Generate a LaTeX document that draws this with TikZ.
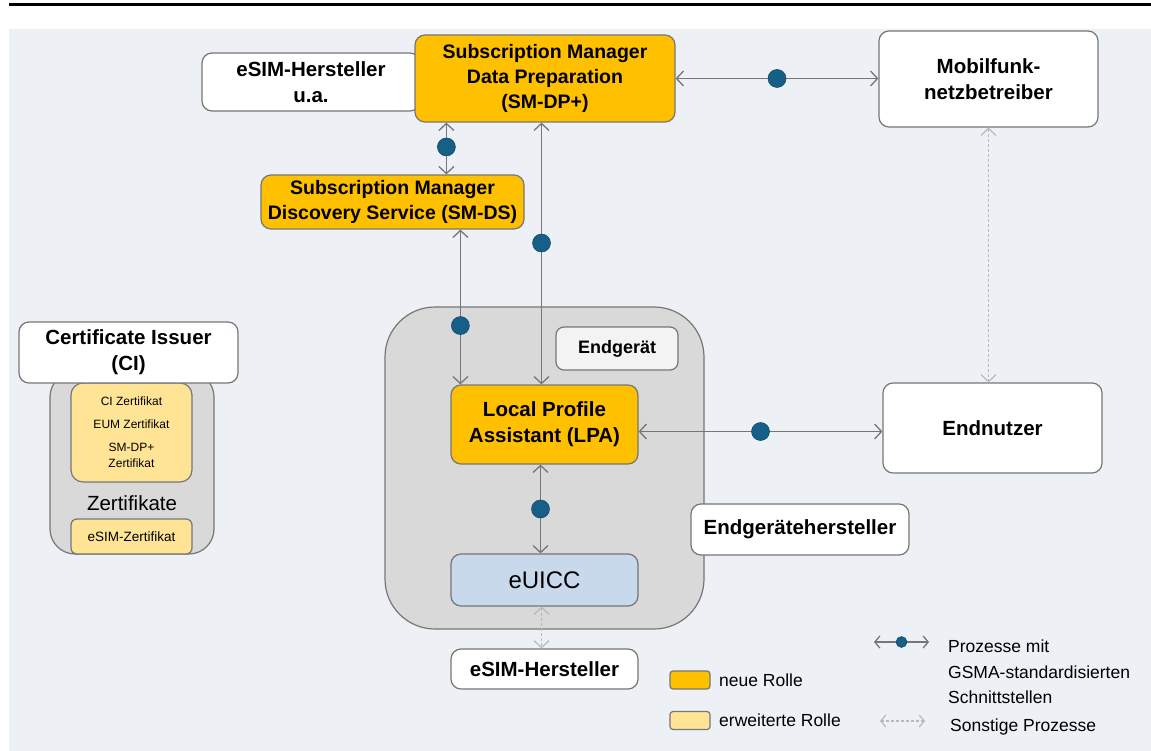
\documentclass[tikz,border=0pt]{standalone}
\usepackage{fontspec}
\setmainfont{Liberation Sans}
\usetikzlibrary{arrows.meta}

\definecolor{bgblue}{RGB}{237,241,245}
\definecolor{newrole}{RGB}{255,192,0}
\definecolor{extrole}{RGB}{255,228,150}
\definecolor{devgray}{RGB}{217,217,217}
\definecolor{labelgray}{RGB}{243,243,243}
\definecolor{euiccblue}{RGB}{201,217,236}
\definecolor{dotblue}{RGB}{22,96,136}
\definecolor{linegray}{RGB}{118,118,118}
\definecolor{dashgray}{RGB}{185,185,185}

\begin{document}
\begin{tikzpicture}
    [x=1pt, y=-1pt,
    every node/.style={inner sep=2pt, align=center},
    role/.style={draw=linegray, line width=1.2pt, rounded corners=10pt, fill=white,
        font=\fontsize{20.5}{26}\selectfont\bfseries},
    new role/.style={role, fill=newrole},
    sm role/.style={new role, font=\fontsize{19.5}{25}\selectfont\bfseries},
    link/.style={draw=linegray, line width=1.3pt, <->, >={Straight Barb[length=7pt,width=15pt]}},
    other link/.style={draw=dashgray, line width=1.2pt, dash pattern=on 3pt off 2pt, <->,
        >={Straight Barb[length=7pt,width=15pt]}},
    dot/.style={circle, fill=dotblue, draw=dotblue!70!black, line width=0.5pt, minimum size=18pt, inner sep=0pt},
    legend text/.style={anchor=west, font=\fontsize{17.5}{25.5}\selectfont, align=left}
    ]
    \useasboundingbox (0,0) rectangle (1151,751);
    \draw[line width=3pt] (9,5) -- (1151,5);
    \fill[bgblue] (9,29) rectangle (1151,751);

    \node (esimua) [role, minimum width=218pt, minimum height=58pt] at (311,82) {eSIM-Hersteller\\u.a.};
    \node (smdp) [sm role, minimum width=260pt, minimum height=87pt] at (545,78.5)
        {Subscription Manager\\Data Preparation\\(SM-DP+)};
    \node (mno) [role, minimum width=219pt, minimum height=96pt] at (988.5,79) {Mobilfunk-\\netzbetreiber};
    \node (smds) [sm role, minimum width=263pt, minimum height=54pt] at (392.5,202)
        {Subscription Manager\\Discovery Service (SM-DS)};

    \node (device) [draw=linegray, line width=1.2pt, fill=devgray, rounded corners=50pt,
        minimum width=319pt, minimum height=322pt] at (544.5,468) {};
    \node (devlabel) [role, fill=labelgray, rounded corners=8pt, minimum width=122pt, minimum height=43pt,
        font=\fontsize{18}{22}\selectfont\bfseries] at (617,348.5) {Endgerät};
    \node (lpa) [new role, minimum width=187pt, minimum height=79pt] at (544.5,424.5) {Local Profile\\Assistant (LPA)};
    \node (euicc) [role, fill=euiccblue, minimum width=187pt, minimum height=52pt,
        font=\fontsize{24}{28}\selectfont] at (544.5,580) {eUICC};
    \node (user) [role, minimum width=219pt, minimum height=90pt] at (992.5,428) {Endnutzer};
    \node (oem) [role, minimum width=218pt, minimum height=51pt] at (800,529.5) {Endgerätehersteller};
    \node (esim) [role, minimum width=187pt, minimum height=40pt] at (544.5,669) {eSIM-Hersteller};

    \node (certbox) [draw=linegray, line width=1.2pt, fill=devgray, rounded corners=25pt,
        minimum width=164pt, minimum height=182pt] at (132,463) {};
    \node (certs) [role, fill=extrole, rounded corners=12pt, minimum width=121pt, minimum height=99pt,
        font=\fontsize{12}{16}\selectfont] at (131.5,432.5)
        {CI Zertifikat\\[7pt]EUM Zertifikat\\[7pt]SM-DP+\\Zertifikat};
    \node (zert) [font=\fontsize{20.5}{24}\selectfont] at (132,503) {Zertifikate};
    \node (esimcert) [role, fill=extrole, rounded corners=6pt, minimum width=121pt, minimum height=35pt,
        font=\fontsize{13.5}{16}\selectfont] at (131.5,536.5) {eSIM-Zertifikat};
    \node (ci) [role, minimum width=219pt, minimum height=61pt] at (128.5,352.5) {Certificate Issuer\\(CI)};

    \draw[link] (smdp.east) -- node[dot] {} (smdp.east -| mno.west);
    \draw[link] ([xshift=32pt]smdp.south west) -- node[dot, pos=0.47] {} ([xshift=32pt]smdp.south west |- smds.north);
    \draw[link] ([xshift=10pt]lpa.north west) -- node[dot, pos=0.38] {} ([xshift=10pt]lpa.north west |- smds.south);
    \draw[link] ([xshift=-3pt]lpa.north) -- node[dot, pos=0.54] {} ([xshift=-3pt]lpa.north |- smdp.south);
    \draw[link] ([yshift=-7pt]lpa.east) -- node[dot] {} ([yshift=-7pt]lpa.east -| user.west);
    \draw[link] ([xshift=-4pt]lpa.south) -- node[dot] {} ([xshift=-4pt]euicc.north);
    \draw[other link] ([xshift=-3pt]euicc.south) -- ([xshift=-3pt]esim.north);
    \draw[other link] (mno.south) -- (mno.south |- user.north);

    \node (lnew) [draw=linegray, line width=1.2pt, fill=newrole, rounded corners=3pt,
        minimum width=40pt, minimum height=18pt] at (690,680) {};
    \node [legend text] at (717,680) {neue Rolle};
    \node (lext) [draw=linegray, line width=1.2pt, fill=extrole, rounded corners=3pt,
        minimum width=40pt, minimum height=18pt] at (690,720.5) {};
    \node [legend text] at (717,720.5) {erweiterte Rolle};

    \coordinate (lka) at (874,642);
    \coordinate (lkb) at (929,642);
    \draw[link, >={Straight Barb[length=5pt,width=12pt]}] (lka) -- node[dot, minimum size=11pt] {} (lkb);
    \node [legend text] at (946,672) {Prozesse mit\\GSMA-standardisierten\\Schnittstellen};
    \coordinate (loa) at (880,721);
    \coordinate (lob) at (925,721);
    \draw[other link, >={Straight Barb[length=5pt,width=12pt]}] (loa) -- (lob);
    \node [legend text] at (948,727) {Sonstige Prozesse};
\end{tikzpicture}
\end{document}
